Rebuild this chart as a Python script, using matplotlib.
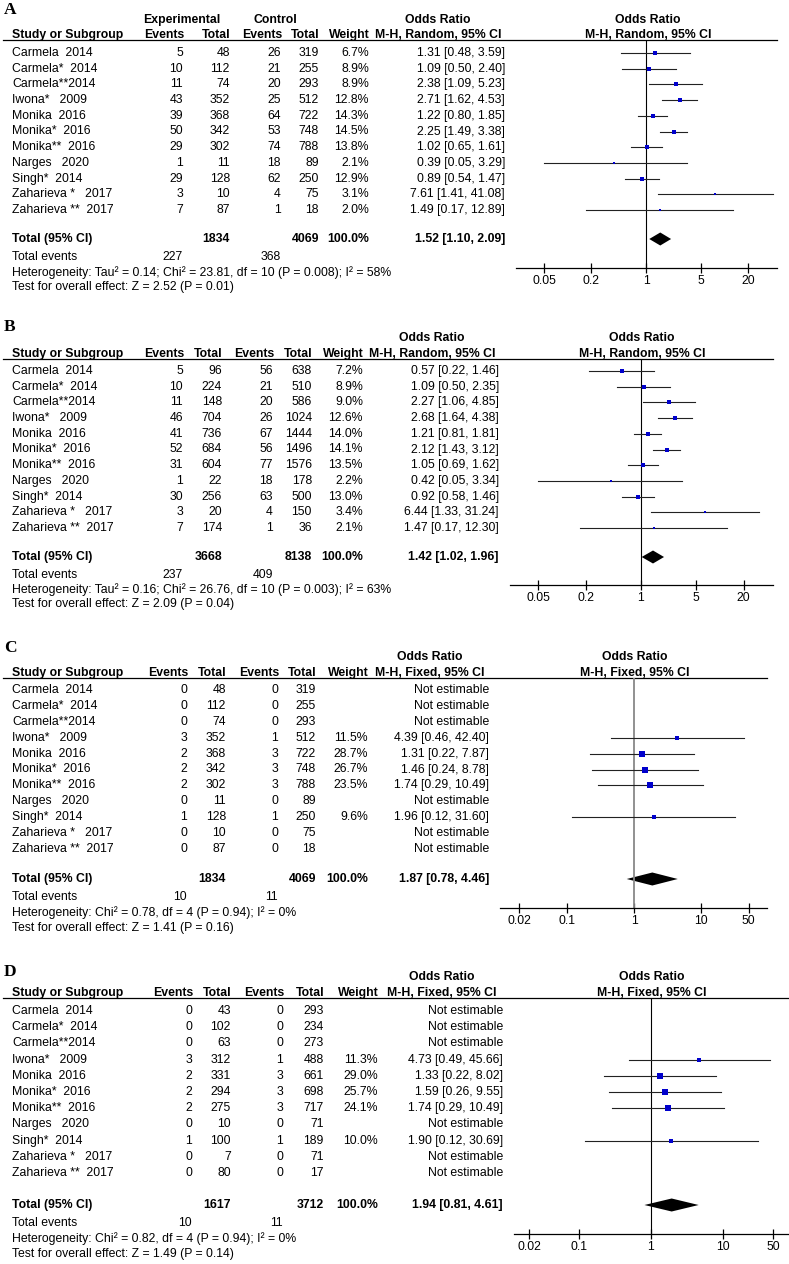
import matplotlib
matplotlib.use("Agg")
import matplotlib.pyplot as plt
from matplotlib.patches import Polygon
import numpy as np

plt.rcParams['font.family'] = ['Liberation Sans', 'DejaVu Sans']
W, H = 789, 1264
FS = 8.8

studies = ["Carmela  2014", "Carmela*  2014", "Carmela**2014", "Iwona*   2009",
           "Monika  2016", "Monika*  2016", "Monika**  2016", "Narges   2020",
           "Singh*  2014", "Zaharieva *   2017", "Zaharieva **  2017"]

# panel A
a_exp_ev = [5, 10, 11, 43, 39, 50, 29, 1, 29, 3, 7]
a_exp_tot = [48, 112, 74, 352, 368, 342, 302, 11, 128, 10, 87]
a_ctl_ev = [26, 21, 20, 25, 64, 53, 74, 18, 62, 4, 1]
a_ctl_tot = [319, 255, 293, 512, 722, 748, 788, 89, 250, 75, 18]
a_weight = [6.7, 8.9, 8.9, 12.8, 14.3, 14.5, 13.8, 2.1, 12.9, 3.1, 2.0]
a_or = [1.31, 1.09, 2.38, 2.71, 1.22, 2.25, 1.02, 0.39, 0.89, 7.61, 1.49]
a_lo = [0.48, 0.50, 1.09, 1.62, 0.80, 1.49, 0.65, 0.05, 0.54, 1.41, 0.17]
a_hi = [3.59, 2.40, 5.23, 4.53, 1.85, 3.38, 1.61, 3.29, 1.47, 41.08, 12.89]
a_total = (1834, 4069, 1.52, 1.10, 2.09, 227, 368)
a_het = "Heterogeneity: Tau² = 0.14; Chi² = 23.81, df = 10 (P = 0.008); I² = 58%"
a_test = "Test for overall effect: Z = 2.52 (P = 0.01)"

# panel B
b_exp_ev = [5, 10, 11, 46, 41, 52, 31, 1, 30, 3, 7]
b_exp_tot = [96, 224, 148, 704, 736, 684, 604, 22, 256, 20, 174]
b_ctl_ev = [56, 21, 20, 26, 67, 56, 77, 18, 63, 4, 1]
b_ctl_tot = [638, 510, 586, 1024, 1444, 1496, 1576, 178, 500, 150, 36]
b_weight = [7.2, 8.9, 9.0, 12.6, 14.0, 14.1, 13.5, 2.2, 13.0, 3.4, 2.1]
b_or = [0.57, 1.09, 2.27, 2.68, 1.21, 2.12, 1.05, 0.42, 0.92, 6.44, 1.47]
b_lo = [0.22, 0.50, 1.06, 1.64, 0.81, 1.43, 0.69, 0.05, 0.58, 1.33, 0.17]
b_hi = [1.46, 2.35, 4.85, 4.38, 1.81, 3.12, 1.62, 3.34, 1.46, 31.24, 12.30]
b_total = (3668, 8138, 1.42, 1.02, 1.96, 237, 409)
b_het = "Heterogeneity: Tau² = 0.16; Chi² = 26.76, df = 10 (P = 0.003); I² = 63%"
b_test = "Test for overall effect: Z = 2.09 (P = 0.04)"

# panel C
c_exp_ev = [0, 0, 0, 3, 2, 2, 2, 0, 1, 0, 0]
c_exp_tot = [48, 112, 74, 352, 368, 342, 302, 11, 128, 10, 87]
c_ctl_ev = [0, 0, 0, 1, 3, 3, 3, 0, 1, 0, 0]
c_ctl_tot = [319, 255, 293, 512, 722, 748, 788, 89, 250, 75, 18]
c_weight = [None, None, None, 11.5, 28.7, 26.7, 23.5, None, 9.6, None, None]
c_or = [None, None, None, 4.39, 1.31, 1.46, 1.74, None, 1.96, None, None]
c_lo = [None, None, None, 0.46, 0.22, 0.24, 0.29, None, 0.12, None, None]
c_hi = [None, None, None, 42.40, 7.87, 8.78, 10.49, None, 31.60, None, None]
c_total = (1834, 4069, 1.87, 0.78, 4.46, 10, 11)
c_het = "Heterogeneity: Chi² = 0.78, df = 4 (P = 0.94); I² = 0%"
c_test = "Test for overall effect: Z = 1.41 (P = 0.16)"

# panel D
d_exp_ev = [0, 0, 0, 3, 2, 2, 2, 0, 1, 0, 0]
d_exp_tot = [43, 102, 63, 312, 331, 294, 275, 10, 100, 7, 80]
d_ctl_ev = [0, 0, 0, 1, 3, 3, 3, 0, 1, 0, 0]
d_ctl_tot = [293, 234, 273, 488, 661, 698, 717, 71, 189, 71, 17]
d_weight = [None, None, None, 11.3, 29.0, 25.7, 24.1, None, 10.0, None, None]
d_or = [None, None, None, 4.73, 1.33, 1.59, 1.74, None, 1.90, None, None]
d_lo = [None, None, None, 0.49, 0.22, 0.26, 0.29, None, 0.12, None, None]
d_hi = [None, None, None, 45.66, 8.02, 9.55, 10.49, None, 30.69, None, None]
d_total = (1617, 3712, 1.94, 0.81, 4.61, 10, 11)
d_het = "Heterogeneity: Chi² = 0.82, df = 4 (P = 0.94); I² = 0%"
d_test = "Test for overall effect: Z = 1.49 (P = 0.14)"

ticks_random = [0.05, 0.2, 1, 5, 20]
ticks_fixed = [0.02, 0.1, 1, 10, 50]

# layout in pixels (y downwards)
panels = [
    dict(label="A", data=(a_exp_ev, a_exp_tot, a_ctl_ev, a_ctl_tot, a_weight, a_or, a_lo, a_hi),
         total=a_total, het=a_het, test=a_test, method="M-H, Random, 95% CI", ticks=ticks_random,
         label_y=10, hdr1_y=20, head_y=35, line_y=40, first=53, last=210, total_y=239,
         events_y=257, het_y=273, test_y=287, axis_y=268, group=(182, 275),
         cols=(183, 230, 281, 319, 369), or_r=505, or_hdr=438, f_hdr=648,
         x0=516, x1=777, p1=646, dec=78.4, vcol="black", vlw=0.8),
    dict(label="B", data=(b_exp_ev, b_exp_tot, b_ctl_ev, b_ctl_tot, b_weight, b_or, b_lo, b_hi),
         total=b_total, het=b_het, test=b_test, method="M-H, Random, 95% CI", ticks=ticks_random,
         label_y=327, hdr1_y=338, head_y=354, line_y=359, first=371, last=528, total_y=557,
         events_y=575, het_y=590, test_y=604, axis_y=585, group=None,
         cols=(183, 222, 273, 312, 363), or_r=499, or_hdr=432, f_hdr=642,
         x0=510, x1=773, p1=641, dec=78.8, vcol="black", vlw=0.8),
    dict(label="C", data=(c_exp_ev, c_exp_tot, c_ctl_ev, c_ctl_tot, c_weight, c_or, c_lo, c_hi),
         total=c_total, het=c_het, test=c_test, method="M-H, Fixed, 95% CI", ticks=ticks_fixed,
         label_y=648, hdr1_y=657, head_y=673, line_y=678, first=690, last=849, total_y=879,
         events_y=897, het_y=913, test_y=928, axis_y=908, group=None,
         cols=(187, 226, 278, 316, 368), or_r=489, or_hdr=430, f_hdr=635,
         x0=500, x1=767, p1=634, dec=67.4, vcol="#888888", vlw=1.3),
    dict(label="D", data=(d_exp_ev, d_exp_tot, d_ctl_ev, d_ctl_tot, d_weight, d_or, d_lo, d_hi),
         total=d_total, het=d_het, test=d_test, method="M-H, Fixed, 95% CI", ticks=ticks_fixed,
         label_y=972, hdr1_y=977, head_y=993, line_y=998, first=1011, last=1173, total_y=1205,
         events_y=1223, het_y=1239, test_y=1254, axis_y=1234, group=None,
         cols=(192, 231, 283, 324, 378), or_r=503, or_hdr=442, f_hdr=652,
         x0=514, x1=789, p1=651, dec=71.8, vcol="black", vlw=0.8),
]

fig = plt.figure(figsize=(W / 100, H / 100), dpi=100)
tab = fig.add_axes([0, 0, 1, 1])
tab.set_xlim(0, W)
tab.set_ylim(H, 0)
tab.axis("off")


def txt(x, y, s, ha="left", bold=False, size=FS):
    tab.text(x, y, s, ha=ha, va="center", fontsize=size,
             fontweight="bold" if bold else "normal", color="black")


for p in panels:
    exp_ev, exp_tot, ctl_ev, ctl_tot, weight, ors, lo, hi = p["data"]
    c1, c2, c3, c4, c5 = p["cols"]
    tab.text(4, p["label_y"], p["label"], ha="left", va="center", fontsize=12.5,
             fontweight="bold", family="Liberation Serif")
    if p["group"]:
        txt(p["group"][0], p["hdr1_y"], "Experimental", ha="center", bold=True)
        txt(p["group"][1], p["hdr1_y"], "Control", ha="center", bold=True)
    txt(p["or_hdr"], p["hdr1_y"], "Odds Ratio", ha="center", bold=True)
    txt(p["f_hdr"], p["hdr1_y"], "Odds Ratio", ha="center", bold=True)
    hy = p["head_y"]
    txt(12, hy, "Study or Subgroup", bold=True)
    for x, s in zip(p["cols"], ["Events", "Total", "Events", "Total", "Weight"]):
        txt(x + 1, hy, s, ha="right", bold=True)
    txt(p["or_hdr"], hy, p["method"], ha="center", bold=True)
    txt(p["f_hdr"], hy, p["method"], ha="center", bold=True)
    tab.plot([3, p["x1"]], [p["line_y"], p["line_y"]], color="black", lw=0.9)

    ys = np.linspace(p["first"], p["last"], len(studies))
    for i, y in enumerate(ys):
        txt(12, y, studies[i])
        txt(c1, y, str(exp_ev[i]), ha="right")
        txt(c2, y, str(exp_tot[i]), ha="right")
        txt(c3, y, str(ctl_ev[i]), ha="right")
        txt(c4, y, str(ctl_tot[i]), ha="right")
        if weight[i] is not None:
            txt(c5, y, f"{weight[i]:.1f}%", ha="right")
        if ors[i] is None:
            txt(p["or_r"], y, "Not estimable", ha="right")
        else:
            txt(p["or_r"], y, f"{ors[i]:.2f} [{lo[i]:.2f}, {hi[i]:.2f}]", ha="right")

    n1, n2, tor, tlo, thi, e1, e2 = p["total"]
    ty = p["total_y"]
    txt(12, ty, "Total (95% CI)", bold=True)
    txt(c2, ty, str(n1), ha="right", bold=True)
    txt(c4, ty, str(n2), ha="right", bold=True)
    txt(c5, ty, "100.0%", ha="right", bold=True)
    txt(p["or_r"], ty, f"{tor:.2f} [{tlo:.2f}, {thi:.2f}]", ha="right", bold=True)
    txt(12, p["events_y"], "Total events")
    txt(c1, p["events_y"], str(e1), ha="right")
    txt(c3, p["events_y"], str(e2), ha="right")
    txt(12, p["het_y"], p["het"])
    txt(12, p["test_y"], p["test"])

    # forest plot
    x0, x1, top, bot = p["x0"], p["x1"], p["line_y"], p["axis_y"]
    ax = fig.add_axes([x0 / W, 1 - bot / H, (x1 - x0) / W, (bot - top) / H])
    ax.set_xscale("log")
    ax.set_xlim(10 ** ((x0 - p["p1"]) / p["dec"]), 10 ** ((x1 - p["p1"]) / p["dec"]))
    ax.set_ylim(bot, top)
    ax.patch.set_alpha(0)
    for s in ["top", "right", "left"]:
        ax.spines[s].set_visible(False)
    ax.spines["bottom"].set_linewidth(0.9)
    ax.axvline(1, color=p["vcol"], lw=p["vlw"])
    for i, y in enumerate(ys):
        if ors[i] is None:
            continue
        ax.plot([lo[i], hi[i]], [y, y], color="#222222", lw=0.8)
        side = 1.15 * np.sqrt(weight[i]) + 0.6
        ax.plot(ors[i], y, marker="s", color="#0000cc", ms=side * 0.72, mew=0, ls="none")
    ax.add_patch(Polygon([[tlo, ty], [tor, ty - 6.5], [thi, ty], [tor, ty + 6.5]],
                         closed=True, color="black", lw=0))
    ax.set_yticks([])
    ax.set_xticks(p["ticks"])
    ax.set_xticklabels([f"{t:g}" for t in p["ticks"]])
    ax.minorticks_off()
    ax.tick_params(axis="x", direction="inout", length=7, width=0.9, labelsize=FS, pad=1.5)

fig.savefig("out.png", dpi=100)
